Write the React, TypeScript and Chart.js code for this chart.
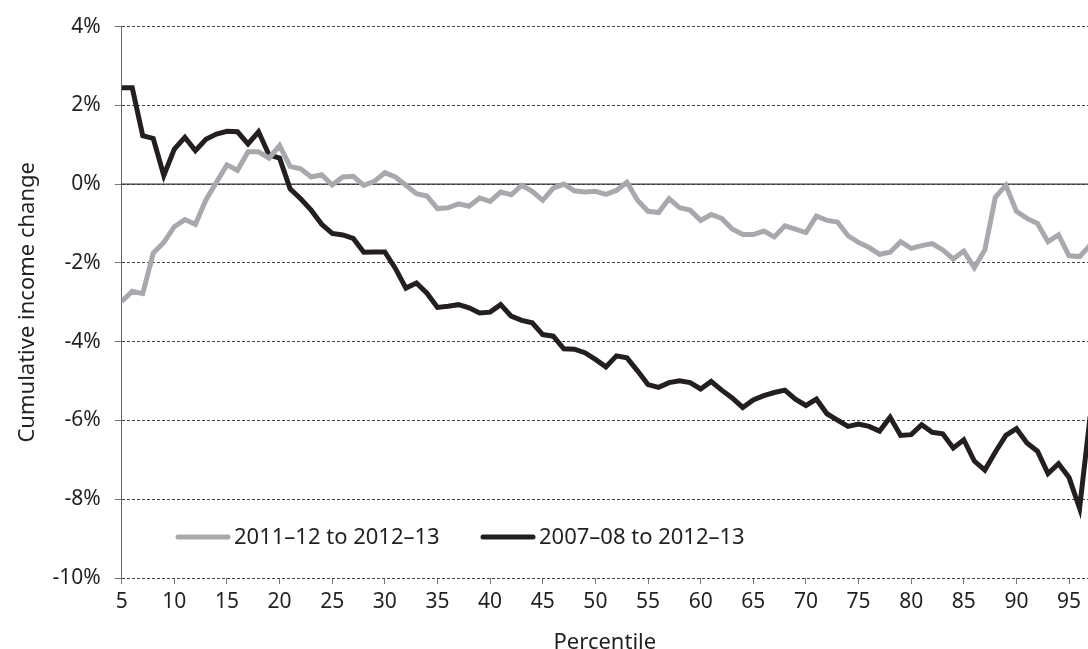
import React, { useEffect, useRef } from 'react';
import { Chart, registerables } from 'chart.js';

Chart.register(...registerables);

const percentiles = [
  5, 6, 7, 8, 9, 10, 11, 12, 13, 14, 15, 16, 17, 18, 19, 20, 21, 22, 23, 24, 25, 26, 27, 28, 29, 30,
  31, 32, 33, 34, 35, 36, 37, 38, 39, 40, 41, 42, 43, 44, 45, 46, 47, 48, 49, 50, 51, 52, 53, 54, 55,
  56, 57, 58, 59, 60, 61, 62, 63, 64, 65, 66, 67, 68, 69, 70, 71, 72, 73, 74, 75, 76, 77, 78, 79, 80,
  81, 82, 83, 84, 85, 86, 87, 88, 89, 90, 91, 92, 93, 94, 95, 96, 97,
];

// 2011–12 to 2012–13 (grey)
const change2011 = [
  -2.98, -2.72, -2.78, -1.75, -1.48, -1.08, -0.9, -1.02, -0.4, 0.05, 0.49, 0.35, 0.82, 0.82, 0.66, 0.98,
  0.45, 0.39, 0.18, 0.24, -0.02, 0.18, 0.2, -0.03, 0.07, 0.29, 0.18, -0.03, -0.24, -0.3, -0.62, -0.6,
  -0.5, -0.56, -0.35, -0.44, -0.2, -0.27, -0.03, -0.18, -0.41, -0.1, 0.0, -0.17, -0.2, -0.18, -0.26,
  -0.16, 0.05, -0.41, -0.69, -0.72, -0.37, -0.6, -0.66, -0.92, -0.77, -0.87, -1.14, -1.28, -1.28,
  -1.19, -1.34, -1.06, -1.14, -1.23, -0.81, -0.92, -0.96, -1.31, -1.48, -1.61, -1.78, -1.73, -1.46,
  -1.63, -1.56, -1.51, -1.67, -1.9, -1.7, -2.12, -1.67, -0.33, -0.03, -0.69, -0.87, -1.0, -1.46,
  -1.29, -1.82, -1.84, -1.55,
];

// 2007–08 to 2012–13 (black)
const change2007 = [
  2.45, 2.45, 1.23, 1.16, 0.22, 0.89, 1.19, 0.85, 1.14, 1.27, 1.34, 1.33, 1.02, 1.33, 0.74, 0.66,
  -0.12, -0.37, -0.66, -1.02, -1.25, -1.29, -1.38, -1.73, -1.72, -1.72, -2.14, -2.64, -2.51, -2.77,
  -3.13, -3.1, -3.06, -3.14, -3.27, -3.25, -3.06, -3.35, -3.46, -3.52, -3.82, -3.86, -4.18, -4.19,
  -4.28, -4.45, -4.64, -4.36, -4.41, -4.74, -5.09, -5.16, -5.04, -4.99, -5.04, -5.2, -5.01, -5.23,
  -5.43, -5.67, -5.48, -5.37, -5.29, -5.23, -5.46, -5.62, -5.46, -5.83, -5.99, -6.15, -6.09, -6.15,
  -6.27, -5.92, -6.38, -6.36, -6.11, -6.3, -6.34, -6.7, -6.49, -7.03, -7.26, -6.8, -6.38, -6.21,
  -6.57, -6.78, -7.35, -7.1, -7.45, -8.23, -5.9,
];

const seriesLabels = ['2011–12 to 2012–13', '2007–08 to 2012–13'];
const seriesColors = ['#a7a9ac', '#231f20'];
const xTickValues = [5, 10, 15, 20, 25, 30, 35, 40, 45, 50, 55, 60, 65, 70, 75, 80, 85, 90, 95];
const yTickValues = [-10, -8, -6, -4, -2, 0, 2, 4];

const FONT = "'Noto Sans', 'Open Sans', sans-serif";
const TEXT = '#231f20';

const zeroLinePlugin = {
  id: 'zeroLine',
  beforeDatasetsDraw(chart: any) {
    const { ctx, chartArea, scales } = chart;
    const y = scales.y.getPixelForValue(0);
    ctx.save();
    ctx.strokeStyle = '#3a3a3a';
    ctx.lineWidth = 1.2;
    ctx.setLineDash([]);
    ctx.beginPath();
    ctx.moveTo(chartArea.left, y);
    ctx.lineTo(chartArea.right, y);
    ctx.stroke();
    ctx.restore();
  },
};

const legendPlugin = {
  id: 'inlineLegend',
  afterDatasetsDraw(chart: any) {
    const { ctx } = chart;
    const starts = [178, 483];
    const y = 537;
    ctx.save();
    chart.data.datasets.forEach((ds: any, i: number) => {
      const x0 = starts[i];
      ctx.strokeStyle = ds.borderColor;
      ctx.lineWidth = 5;
      ctx.lineCap = 'round';
      ctx.beginPath();
      ctx.moveTo(x0, y);
      ctx.lineTo(x0 + 50, y);
      ctx.stroke();
      ctx.fillStyle = TEXT;
      ctx.font = `22px ${FONT}`;
      ctx.textBaseline = 'middle';
      ctx.textAlign = 'left';
      ctx.fillText(ds.label, x0 + 56, y + 1);
    });
    ctx.restore();
  },
};

export default function App() {
  const ref = useRef<HTMLCanvasElement>(null);

  useEffect(() => {
    document.body.style.margin = '0';
    const canvas = ref.current;
    if (!canvas) return;
    const chart = new Chart(canvas, {
      type: 'line',
      data: {
        datasets: [
          {
            label: seriesLabels[0],
            data: percentiles.map((p, i) => ({ x: p, y: change2011[i] })),
            borderColor: seriesColors[0],
            backgroundColor: seriesColors[0],
            borderWidth: 5,
            pointRadius: 0,
            tension: 0,
          },
          {
            label: seriesLabels[1],
            data: percentiles.map((p, i) => ({ x: p, y: change2007[i] })),
            borderColor: seriesColors[1],
            backgroundColor: seriesColors[1],
            borderWidth: 5,
            pointRadius: 0,
            tension: 0,
          },
        ],
      },
      options: {
        responsive: false,
        animation: false,
        devicePixelRatio: 1,
        layout: { padding: { top: 23, left: 0, right: 0, bottom: 0 } },
        plugins: {
          legend: { display: false },
          tooltip: { enabled: false },
        },
        scales: {
          x: {
            type: 'linear',
            min: 5,
            max: 96.8,
            afterBuildTicks: (s: any) => {
              s.ticks = xTickValues.map((v) => ({ value: v }));
            },
            afterFit: (s: any) => {
              s.height = 71;
            },
            ticks: {
              color: TEXT,
              font: { family: FONT, size: 21 },
              padding: 5,
              maxRotation: 0,
              autoSkip: false,
              callback: (v: any) => String(v),
            },
            grid: {
              display: true,
              drawOnChartArea: false,
              drawTicks: true,
              tickLength: 6,
              tickColor: '#777',
              tickWidth: 1,
            },
            border: { display: false },
            title: {
              display: true,
              text: 'Percentile',
              color: TEXT,
              font: { family: FONT, size: 22 },
              padding: { top: 0, bottom: -7 },
            },
          },
          y: {
            type: 'linear',
            min: -10,
            max: 4,
            afterBuildTicks: (s: any) => {
              s.ticks = yTickValues.map((v) => ({ value: v }));
            },
            afterFit: (s: any) => {
              s.width = 121.7;
            },
            ticks: {
              color: TEXT,
              font: { family: FONT, size: 21 },
              padding: 14,
              callback: (v: any) => `${v}%`,
            },
            grid: {
              color: '#444',
              lineWidth: 1,
              drawTicks: true,
              tickLength: 7,
              tickColor: '#777',
              tickWidth: 1,
              tickBorderDash: [],
            },
            border: { display: true, color: '#666', width: 1, dash: [3, 2] },
            title: {
              display: true,
              text: 'Cumulative income change',
              color: TEXT,
              font: { family: FONT, size: 22 },
              padding: { top: 15, bottom: 0 },
            },
          },
        },
      },
      plugins: [zeroLinePlugin, legendPlugin],
    } as any);
    return () => chart.destroy();
  }, []);

  return (
    <div style={{ position: 'fixed', left: 0, top: 0, width: 1088, height: 649, background: '#fff' }}>
      <canvas ref={ref} width={1088} height={649} style={{ width: 1088, height: 649, display: 'block' }} />
    </div>
  );
}
